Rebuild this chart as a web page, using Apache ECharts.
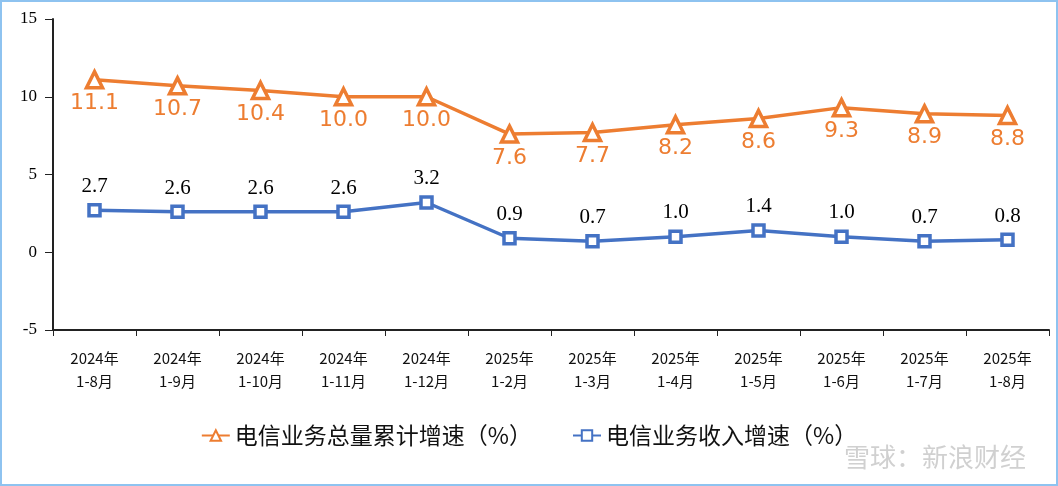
<!DOCTYPE html>
<html><head><meta charset="utf-8">
<script src="https://cdn.jsdelivr.net/npm/echarts@6/dist/echarts.min.js"></script>
<style>
html,body{margin:0;padding:0;background:#fff;}
#c{width:1058px;height:486px;box-sizing:border-box;border:2px solid #8ec3f0;}
</style></head>
<body><div id="c"></div>
<script>
const categories = ['2024年\n1-8月','2024年\n1-9月','2024年\n1-10月','2024年\n1-11月','2024年\n1-12月','2025年\n1-2月','2025年\n1-3月','2025年\n1-4月','2025年\n1-5月','2025年\n1-6月','2025年\n1-7月','2025年\n1-8月'];
const volumeGrowth = [11.1,10.7,10.4,10.0,10.0,7.6,7.7,8.2,8.6,9.3,8.9,8.8];
const revenueGrowth = [2.7,2.6,2.6,2.6,3.2,0.9,0.7,1.0,1.4,1.0,0.7,0.8];
const seriesNames = ['电信业务总量累计增速（%）','电信业务收入增速（%）'];
const yTicks = {min:-5,max:15,interval:5};

const chart = echarts.init(document.getElementById('c'));
chart.setOption({
  animation:false,
  grid:{left:51,top:17,right:7,bottom:154},
  legend:{
    bottom:32,left:'center',itemGap:40,itemWidth:28,itemHeight:13,
    textStyle:{fontFamily:'Noto Sans CJK SC',fontSize:23,color:'#111'},
    data:seriesNames
  },
  graphic:[{type:'text',right:30,bottom:14,style:{text:'雪球：新浪财经',fontSize:26,fontFamily:'Noto Sans CJK SC',fill:'rgba(170,170,170,0.55)'}}],
  xAxis:{
    type:'category',data:categories,boundaryGap:true,
    axisLine:{onZero:false,lineStyle:{color:'#222',width:2}},
    axisTick:{show:true,length:6,lineStyle:{color:'#222'}},
    axisLabel:{fontFamily:'Noto Sans CJK SC',fontSize:15,color:'#111',lineHeight:23,margin:17}
  },
  yAxis:{
    type:'value',min:yTicks.min,max:yTicks.max,interval:yTicks.interval,
    axisLine:{show:true,lineStyle:{color:'#222',width:2}},
    axisTick:{show:true,length:8,lineStyle:{color:'#222'}},
    splitLine:{show:false},
    axisLabel:{fontFamily:'Liberation Serif',fontSize:17,color:'#000',margin:16}
  },
  series:[
    {name:seriesNames[0],type:'line',data:volumeGrowth,
     symbol:'triangle',symbolSize:16,
     lineStyle:{color:'#ED7D31',width:3.5},
     itemStyle:{color:'#fff',borderColor:'#ED7D31',borderWidth:3.5},
     label:{show:true,position:'bottom',distance:3,color:'#ED7D31',fontSize:22,fontFamily:'DejaVu Sans',formatter:p=>p.value.toFixed(1)}
    },
    {name:seriesNames[1],type:'line',data:revenueGrowth,
     symbol:'rect',symbolSize:11,
     lineStyle:{color:'#4472C4',width:3.5},
     itemStyle:{color:'#fff',borderColor:'#4472C4',borderWidth:3.5},
     label:{show:true,position:'top',distance:6,color:'#000',fontSize:21,fontFamily:'Liberation Serif',formatter:p=>p.value.toFixed(1)}
    }
  ]
});
</script></body></html>
